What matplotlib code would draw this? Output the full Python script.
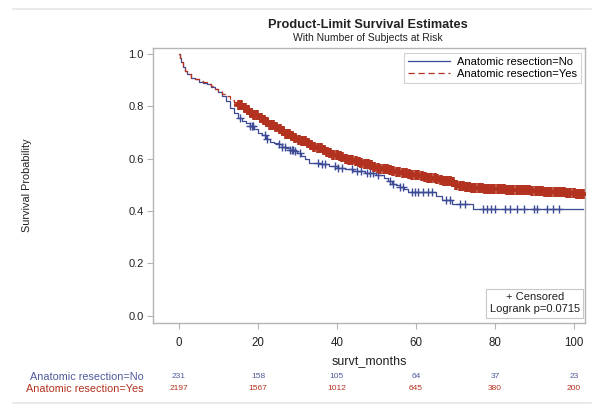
import numpy as np
import matplotlib
matplotlib.use("Agg")
import matplotlib.pyplot as plt
from matplotlib.lines import Line2D
import matplotlib.transforms as mtransforms

plt.rcParams["font.family"] = ["Liberation Sans", "DejaVu Sans"]

BLUE = "#3d4b96"
RED = "#b3321f"
GRID = "#b4b4b4"

# Kaplan-Meier step knots (time in months, survival)
no_t = [0, 0.3, 0.6, 1, 1.5, 2, 3, 4, 5, 6, 7, 8, 9, 10, 11, 12, 13, 14, 15,
        16, 17, 18, 19, 20, 21, 22, 23, 24, 25, 26, 27, 28, 29, 30, 31, 32,
        33, 36, 38, 40, 42, 44, 47, 50, 52, 53, 54, 55, 56, 57, 58, 65.2,
        66.5, 69, 74.5, 102.4]
no_s = [1.0, 0.985, 0.97, 0.95, 0.935, 0.925, 0.91, 0.905, 0.895, 0.89,
        0.885, 0.875, 0.865, 0.855, 0.84, 0.82, 0.795, 0.775, 0.755, 0.745,
        0.735, 0.725, 0.715, 0.70, 0.69, 0.675, 0.665, 0.66, 0.655, 0.645,
        0.64, 0.635, 0.628, 0.622, 0.61, 0.60, 0.585, 0.578, 0.572, 0.565,
        0.56, 0.552, 0.545, 0.537, 0.528, 0.515, 0.505, 0.498, 0.49, 0.484,
        0.474, 0.457, 0.442, 0.426, 0.407, 0.407]

yes_t = [0, 0.3, 0.6, 1, 1.5, 2, 3, 4, 5, 6, 7, 8, 9, 10, 11, 12, 13, 14,
         15, 16, 17, 18, 19, 20, 21, 22, 23, 24, 25, 26, 27, 28, 29, 30, 31,
         32, 33, 34, 35, 36, 37, 38, 39, 40, 41, 42, 43, 44, 45, 46, 47, 48,
         49, 50, 51, 52, 53, 54, 55, 56, 57, 58, 59, 60, 61, 62, 63, 64, 65,
         66, 67, 68, 69, 70, 71, 72, 74, 77, 80, 83, 86, 89, 92, 95, 98, 100,
         102.4]
yes_s = [1.0, 0.985, 0.97, 0.95, 0.935, 0.925, 0.91, 0.905, 0.897, 0.892,
         0.886, 0.878, 0.868, 0.858, 0.848, 0.838, 0.826, 0.815,
         0.805, 0.795, 0.786, 0.776, 0.766, 0.757, 0.748, 0.739, 0.730,
         0.722, 0.713, 0.704, 0.696, 0.688, 0.680, 0.673, 0.666, 0.659,
         0.652, 0.645, 0.639, 0.633, 0.627, 0.621, 0.615, 0.610, 0.605,
         0.600, 0.595, 0.590, 0.586, 0.582, 0.578, 0.574, 0.570, 0.566,
         0.562, 0.559, 0.556, 0.553, 0.550, 0.547, 0.544, 0.541, 0.538,
         0.536, 0.533, 0.531, 0.528, 0.525, 0.522, 0.519, 0.516, 0.513,
         0.509, 0.500, 0.494, 0.491, 0.488, 0.486, 0.484, 0.482, 0.479,
         0.477, 0.474, 0.471, 0.468, 0.466, 0.466]

# censoring times
no_cens = [15.4, 18.0, 18.4, 18.8, 21.8, 22.2, 25.2, 26.0, 26.8, 28.1, 28.5,
           28.9, 29.4, 30.6, 35.3, 36.2, 37.0, 39.5, 40.3, 41.2, 43.7, 45.0,
           46.2, 47.5, 48.4, 49.2, 50.5, 53.5, 54.2, 56.0, 56.8, 58.9, 59.8,
           60.6, 61.9, 63.1, 64.0, 67.7, 68.6, 71.1, 72.4, 77.0, 78.0, 79.0,
           80.0, 82.6, 83.9, 85.6, 87.3, 89.9, 90.7, 93.3, 94.6, 96.3]
yes_cens = [15.1, 15.8, 16.7, 17.4, 18.3, 19.1, 19.8, 20.7, 21.5, 22.2, 23.1,
            23.9, 24.6, 25.5, 26.3, 27.0, 27.9, 28.7, 29.4, 30.3, 31.1, 31.8,
            32.7, 33.5, 34.2, 35.1, 35.9, 36.6, 37.5, 38.3, 39.0, 39.9, 40.7,
            41.4, 42.3, 43.1, 43.8, 44.7, 45.5, 46.2, 47.1, 47.9, 48.6, 49.5,
            50.3, 51.0, 51.9, 52.7, 53.4, 54.3, 55.1, 55.8, 56.7, 57.5, 58.2,
            59.1, 59.9, 60.6, 61.5, 62.3, 63.0, 63.9, 64.7, 65.4, 66.3, 67.1,
            67.8, 68.7, 69.5, 70.2, 71.1, 71.9, 72.6, 73.5, 74.3, 75.0, 75.9,
            76.7, 77.4, 78.3, 79.1, 79.8, 80.7, 81.5, 82.2, 83.1, 83.9, 84.6,
            85.5, 86.3, 87.0, 87.9, 88.7, 89.4, 90.3, 91.1, 91.8, 92.7, 93.5,
            94.2, 95.1, 95.9, 96.6, 97.5, 98.3, 99.0, 99.9, 100.7, 101.5,
            102.2]

ticks_x = [0, 20, 40, 60, 80, 100]
risk_no = [231, 158, 105, 64, 37, 23]
risk_yes = [2197, 1567, 1012, 645, 380, 200]


def at(times, t, s):
    idx = np.searchsorted(t, times, side="right") - 1
    return np.asarray(s)[idx]


W, H = 604, 412
fig = plt.figure(figsize=(W / 100, H / 100), dpi=100, facecolor="white")
ax = fig.add_axes([153.3 / W, 1 - 322.7 / H, (585 - 153.3) / W,
                   (322.7 - 48.3) / H])

ax.step(no_t, no_s, where="post", color=BLUE, lw=0.9, zorder=3)
ax.plot(no_cens, at(no_cens, no_t, no_s), ls="none", marker="+", ms=6,
        mew=1.0, color=BLUE, zorder=4)
ax.step(yes_t, yes_s, where="post", color=RED, lw=0.9, dashes=(5, 3),
        zorder=5)
ax.plot(yes_cens, at(yes_cens, yes_t, yes_s), ls="none", marker="+", ms=7,
        mew=2.6, color=RED, zorder=6)

ax.set_xlim(-6.5, 102.8)
ax.set_ylim(-0.027, 1.022)
ax.set_xticks(ticks_x)
ax.set_yticks([0.0, 0.2, 0.4, 0.6, 0.8, 1.0])
ax.set_yticklabels(["0.0", "0.2", "0.4", "0.6", "0.8", "1.0"])
ax.tick_params(axis="both", length=4, width=0.8, color=GRID, labelsize=8,
               labelcolor="#222222", pad=3)
ax.tick_params(axis="x", pad=6, labelsize=8.3)
for sp in ax.spines.values():
    sp.set_color(GRID)
    sp.set_linewidth(1.0)

ax.set_xlabel("survt_months", fontsize=9, color="#222222", labelpad=5)
fig.text(27 / W, 1 - 185.5 / H, "Survival Probability", rotation=90,
         ha="center", va="center", fontsize=7.8, color="#222222")

fig.text(368 / W, 1 - 25 / H, "Product-Limit Survival Estimates",
         ha="center", va="center", fontsize=9.2, fontweight="bold",
         color="#222222")
fig.text(368 / W, 1 - 38 / H, "With Number of Subjects at Risk",
         ha="center", va="center", fontsize=7.5, color="#222222")

handles = [Line2D([], [], color=BLUE, lw=0.9),
           Line2D([], [], color=RED, lw=0.9, dashes=(5, 3))]
leg = ax.legend(handles, ["Anatomic resection=No", "Anatomic resection=Yes"],
                loc="upper right", bbox_to_anchor=(0.995, 0.99), fontsize=8,
                frameon=True, fancybox=False, handlelength=3.8,
                handletextpad=0.6, borderpad=0.35, labelspacing=0.15,
                borderaxespad=0.2)
leg.get_frame().set_edgecolor("#c8c8c8")
leg.get_frame().set_linewidth(0.8)

ax.text(0.988, 0.03, "+ Censored\nLogrank p=0.0715", transform=ax.transAxes,
        ha="right", va="bottom", fontsize=8, color="#222222",
        multialignment="center", linespacing=1.25,
        bbox=dict(boxstyle="square,pad=0.3", fc="white", ec="#c8c8c8",
                  lw=0.8))

# at-risk table below the axis
trans = mtransforms.blended_transform_factory(ax.transData, fig.transFigure)
fig.text(144 / W, 1 - 376.5 / H, "Anatomic resection=No", ha="right",
         va="center", fontsize=7.8, color="#4f5b9e")
fig.text(144 / W, 1 - 389 / H, "Anatomic resection=Yes", ha="right",
         va="center", fontsize=7.8, color=RED)
for x, a, b in zip(ticks_x, risk_no, risk_yes):
    ax.text(x, 1 - 376.5 / H, str(a), transform=trans, ha="center",
            va="center", fontsize=6, color="#4f5b9e")
    ax.text(x, 1 - 389 / H, str(b), transform=trans, ha="center",
            va="center", fontsize=6, color=RED)

# thin frame lines top and bottom
fig.add_artist(Line2D([13 / W, 591 / W], [1 - 8.5 / H, 1 - 8.5 / H],
                      color="#e6e6e6", lw=1.2))
fig.add_artist(Line2D([13 / W, 591 / W], [1 - 402.7 / H, 1 - 402.7 / H],
                      color="#e6e6e6", lw=1.2))

fig.savefig("out.png", dpi=100)
